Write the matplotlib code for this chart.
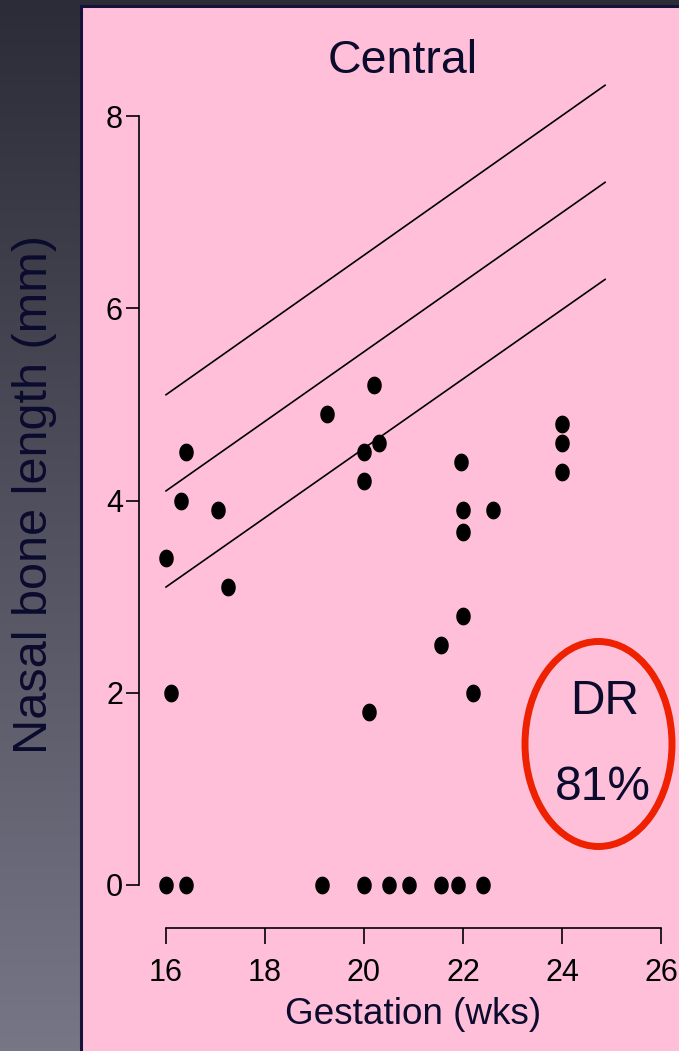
import numpy as np
import matplotlib
matplotlib.use("Agg")
import matplotlib.pyplot as plt
from matplotlib.path import Path
from matplotlib.patches import Rectangle, Ellipse

plt.rcParams['font.family'] = ['Liberation Sans', 'DejaVu Sans']

# ---- data ----
ga_pos = [16.0, 16.1, 16.3, 16.4, 17.05, 17.25, 19.25, 20.2, 20.0, 20.0, 20.3,
          20.1, 21.95, 22.0, 22.0, 22.0, 22.6, 21.55, 22.2, 24.0, 24.0, 24.0]
nbl_pos = [3.4, 2.0, 4.0, 4.5, 3.9, 3.1, 4.9, 5.2, 4.5, 4.2, 4.6,
           1.8, 4.4, 3.9, 3.67, 2.8, 3.9, 2.5, 2.0, 4.8, 4.6, 4.3]
ga_absent = [16.0, 16.4, 19.15, 20.0, 20.5, 20.9, 21.55, 21.9, 22.4]
nbl_absent = [0, 0, 0, 0, 0, 0, 0, 0, 0]

ref_ga = [16.0, 24.87]
ref_upper = [5.1, 8.32]
ref_median = [4.1, 7.31]
ref_lower = [3.1, 6.30]

xticks = [16, 18, 20, 22, 24, 26]
yticks = [0, 2, 4, 6, 8]

W, H = 679, 1051
fig = plt.figure(figsize=(W / 100, H / 100), dpi=100)

# background gradient
bg = fig.add_axes([0, 0, 1, 1], zorder=-3)
bg.set_axis_off()
c_top = np.array([0x2c, 0x2c, 0x38]) / 255
c_bot = np.array([0x76, 0x76, 0x86]) / 255
t = np.linspace(0, 1, 256)[:, None]
grad = c_top[None, :] * (1 - t) + c_bot[None, :] * t
bg.imshow(grad[:, None, :], aspect='auto', extent=[0, 1, 0, 1], origin='upper')
bg.set_xlim(0, 1)
bg.set_ylim(0, 1)

# pink panel
panel = Rectangle((80.5 / W, -0.01), 1.0, 1 - 5.5 / H + 0.01, transform=fig.transFigure,
                  facecolor='#FFBFD9', edgecolor='#12123a', linewidth=2.2, zorder=-2)
fig.add_artist(panel)

# main axes: x 16->px166, 26->px661 ; y 0->px885, 8->px116
left = 166 / W
width = (661 - 166) / W
bottom = (H - 885) / H
height = (885 - 116) / H
ax = fig.add_axes([left, bottom, width, height], zorder=1)
ax.patch.set_alpha(0)
ax.set_xlim(16, 26)
ax.set_ylim(0, 8)

navy = '#0b0b2e'
th = np.linspace(0, 2 * np.pi, 60)
dot = Path(np.column_stack([0.8 * np.cos(th), np.sin(th)]))

ax.plot(ref_ga, ref_upper, color='black', lw=1.2, clip_on=False)
ax.plot(ref_ga, ref_median, color='black', lw=1.2, clip_on=False)
ax.plot(ref_ga, ref_lower, color='black', lw=1.2, clip_on=False)
ax.plot(ga_pos, nbl_pos, ls='none', marker=dot, ms=11.8, color='black', clip_on=False)
ax.plot(ga_absent, nbl_absent, ls='none', marker=dot, ms=11.8, color='black', clip_on=False)

for s in ['top', 'right']:
    ax.spines[s].set_visible(False)
ax.spines['left'].set_position(('outward', 19.5))
ax.spines['bottom'].set_position(('outward', 31))
ax.spines['left'].set_bounds(0, 8)
ax.spines['bottom'].set_bounds(16, 26)
for s in ['left', 'bottom']:
    ax.spines[s].set_linewidth(1.2)
ax.set_xticks(xticks)
ax.set_yticks(yticks)
ax.tick_params(axis='y', length=9.5, width=1.2, pad=2, labelsize=22, labelcolor='black')
ax.tick_params(axis='x', length=11.5, width=1.2, pad=10, labelsize=22, labelcolor='black')

# texts
fig.text(403 / W, 1 - 61 / H, 'Central', ha='center', va='center', fontsize=33.5, color=navy)
fig.text(413 / W, 1 - 1015 / H, 'Gestation (wks)', ha='center', va='center', fontsize=26.6, color=navy)
fig.text(35 / W, 1 - 494 / H, 'Nasal bone length (mm)', ha='center', va='center',
         rotation=90, fontsize=35, color=navy)

# DR annotation
ell = Ellipse((598.5 / W, 1 - 744 / H), 147 / W, 205 / H, transform=fig.transFigure,
              facecolor='none', edgecolor='#EE2200', linewidth=5, zorder=5)
fig.add_artist(ell)
fig.text(605 / W, 1 - 702 / H, 'DR', ha='center', va='center', fontsize=34.5, color=navy)
fig.text(603 / W, 1 - 788 / H, '81%', ha='center', va='center', fontsize=34.5, color=navy)

fig.savefig('out.png', dpi=100)
